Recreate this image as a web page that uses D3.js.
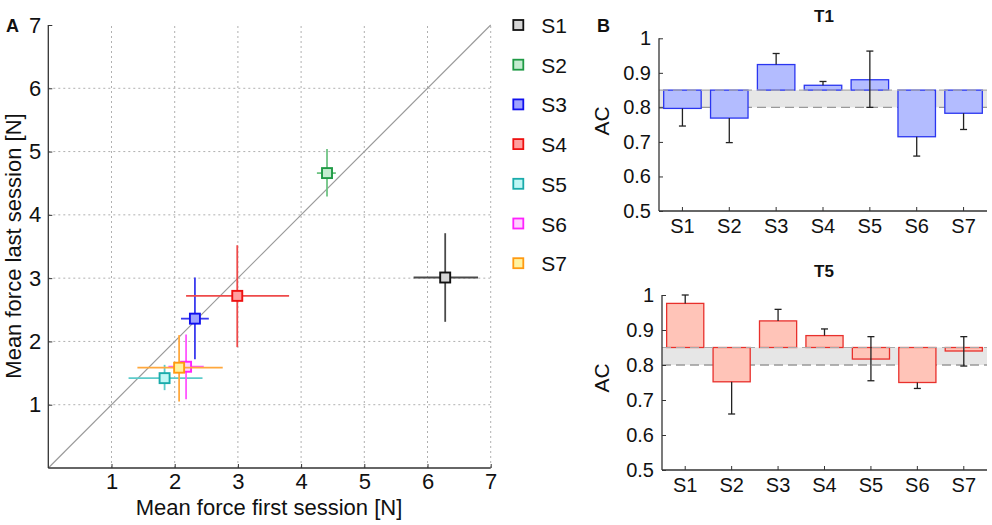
<!DOCTYPE html>
<html>
<head>
<meta charset="utf-8">
<script src="https://cdn.jsdelivr.net/npm/d3@7"></script>
<style>
html,body{margin:0;padding:0;background:#fff;}
text{font-family:"Liberation Sans",Arial,sans-serif;fill:#111;}
</style>
</head>
<body>
<svg id="chart" width="992" height="525"></svg>
<script>
// ---------- data ----------
const subjects = ["S1","S2","S3","S4","S5","S6","S7"];
// Panel A: mean force first / last session with error extents
const firstMean = [6.28, 4.41, 2.32, 2.99, 1.84, 2.18, 2.07];
const firstLo   = [5.78, 4.25, 2.10, 2.18, 1.27, 1.90, 1.41];
const firstHi   = [6.80, 4.55, 2.54, 3.81, 2.44, 2.46, 2.76];
const lastMean  = [3.01, 4.66, 2.36, 2.72, 1.42, 1.60, 1.585];
const lastLo    = [2.31, 4.29, 1.72, 1.91, 1.23, 1.085, 1.05];
const lastHi    = [3.71, 5.04, 3.01, 3.52, 1.63, 2.11, 2.10];
const axisTicksA = [1,2,3,4,5,6,7];
const edgeColors = ["#111111","#1f9a45","#1010ee","#ee1111","#1aabab","#ff22ff","#ff9a10"];
const fillColors = ["#d6d6d6","#c4ecd0","#9fa3ff","#ff9f9f","#bff7f5","#ffd2ff","#fff3a0"];
const lineColors = ["#4a4a4a","#6fc484","#3a3aee","#ee4a4a","#5ccbca","#ff55ff","#ffa83d"];

// Panel B: AC per subject (T1 and T5), baseline 0.85, band 0.8-0.85
const acT1   = [0.797, 0.769, 0.924, 0.864, 0.880, 0.715, 0.783];
const t1ErrLo = [0.746, 0.698, 0.924, 0.864, 0.800, 0.659, 0.736];
const t1ErrHi = [0.797, 0.769, 0.956, 0.875, 0.963, 0.715, 0.783];
const acT5   = [0.976, 0.752, 0.926, 0.884, 0.817, 0.750, 0.840];
const t5ErrLo = [0.976, 0.660, 0.926, 0.884, 0.755, 0.733, 0.797];
const t5ErrHi = [1.000, 0.752, 0.959, 0.903, 0.881, 0.750, 0.881];
const acTicks = [0.5,0.6,0.7,0.8,0.9,1];
const baseline = 0.85;
const bandLow = 0.80;

const svg = d3.select("#chart");
const axisCol = "#333";

// ---------- Panel A ----------
const xA = d3.scaleLinear().domain([0,7]).range([48.3,490.7]);
const yA = d3.scaleLinear().domain([0,7]).range([468,25]);
const gA = svg.append("g");

// grid
gA.selectAll("line.gx").data(axisTicksA).join("line")
  .attr("x1",d=>xA(d)).attr("x2",d=>xA(d)).attr("y1",yA(0)).attr("y2",yA(7))
  .attr("stroke","#b0b0b0").attr("stroke-width",1).attr("stroke-dasharray","2,3");
gA.selectAll("line.gy").data(axisTicksA.filter(d=>d<7)).join("line")
  .attr("y1",d=>yA(d)).attr("y2",d=>yA(d)).attr("x1",xA(0)).attr("x2",xA(7))
  .attr("stroke","#b0b0b0").attr("stroke-width",1).attr("stroke-dasharray","2,3");
// diagonal
gA.append("line").attr("x1",xA(0)).attr("y1",yA(0)).attr("x2",xA(7)).attr("y2",yA(7))
  .attr("stroke","#999").attr("stroke-width",1.1);

// axes
const axXA = d3.axisBottom(xA).tickValues(axisTicksA).tickSize(-4).tickPadding(5).tickFormat(d3.format("d"));
const axYA = d3.axisLeft(yA).tickValues(axisTicksA).tickSize(-4).tickPadding(7).tickFormat(d3.format("d"));
const gxA = gA.append("g").attr("transform",`translate(0,${yA(0)})`).call(axXA);
const gyA = gA.append("g").attr("transform",`translate(${xA(0)},0)`).call(axYA);
[gxA,gyA].forEach(g=>{
  g.select(".domain").attr("stroke",axisCol).attr("stroke-width",1.3);
  g.selectAll(".tick line").attr("stroke",axisCol);
  g.selectAll(".tick text").style("font-size","22px").attr("fill","#111");
});
gxA.select(".domain").attr("d",`M${xA(0)},0H${xA(7)}`);
gyA.select(".domain").attr("d",`M0,${yA(0)}V${yA(7)}`);

gA.append("text").attr("x",269).attr("y",515).attr("text-anchor","middle")
  .style("font-size","22px").text("Mean force first session [N]");
gA.append("text").attr("transform","translate(21,246) rotate(-90)").attr("text-anchor","middle")
  .style("font-size","22px").text("Mean force last session [N]");
svg.append("text").attr("x",6).attr("y",32).style("font-size","18px").style("font-weight","bold").text("A");

// error bars + markers
const pts = subjects.map((s,i)=>({s,i}));
const gp = gA.selectAll("g.pt").data(pts).join("g");
gp.append("line").attr("x1",d=>xA(firstLo[d.i])).attr("x2",d=>xA(firstHi[d.i]))
  .attr("y1",d=>yA(lastMean[d.i])).attr("y2",d=>yA(lastMean[d.i]))
  .attr("stroke",d=>lineColors[d.i]).attr("stroke-width",1.8);
gp.append("line").attr("x1",d=>xA(firstMean[d.i])).attr("x2",d=>xA(firstMean[d.i]))
  .attr("y1",d=>yA(lastLo[d.i])).attr("y2",d=>yA(lastHi[d.i]))
  .attr("stroke",d=>lineColors[d.i]).attr("stroke-width",1.8);
gp.append("rect").attr("x",d=>xA(firstMean[d.i])-5).attr("y",d=>yA(lastMean[d.i])-5)
  .attr("width",10).attr("height",10)
  .attr("fill",d=>fillColors[d.i]).attr("stroke",d=>edgeColors[d.i]).attr("stroke-width",1.9);

// legend
const lg = svg.append("g").selectAll("g").data(pts).join("g")
  .attr("transform",d=>`translate(518.3,${25+d.i*39.7})`);
lg.append("rect").attr("x",-5).attr("y",-5).attr("width",10).attr("height",10)
  .attr("fill",d=>fillColors[d.i]).attr("stroke",d=>edgeColors[d.i]).attr("stroke-width",1.8);
lg.append("text").attr("x",23).attr("y",8).style("font-size","21px").text(d=>d.s);

// ---------- Panel B ----------
svg.append("text").attr("x",597).attr("y",32).style("font-size","18px").style("font-weight","bold").text("B");

function barPanel(cfg){
  const x = d3.scaleBand().domain(subjects).range([cfg.left,987]).paddingInner(0.2).paddingOuter(0.1);
  const y = d3.scaleLinear().domain([0.5,1]).range([cfg.bottom,cfg.top]);
  const g = svg.append("g");
  // band
  g.append("rect").attr("x",cfg.left).attr("width",987-cfg.left)
    .attr("y",y(baseline)).attr("height",y(bandLow)-y(baseline)).attr("fill","#e6e6e6");
  g.append("line").attr("x1",cfg.left).attr("x2",987).attr("y1",y(bandLow)).attr("y2",y(bandLow))
    .attr("stroke","#999").attr("stroke-width",1.3).attr("stroke-dasharray","9,5");
  // bars
  const d = subjects.map((s,i)=>({s,i}));
  g.selectAll("rect.bar").data(d).join("rect")
    .attr("x",e=>x(e.s)).attr("width",x.bandwidth())
    .attr("y",e=>y(Math.max(cfg.vals[e.i],baseline)))
    .attr("height",e=>Math.abs(y(cfg.vals[e.i])-y(baseline)))
    .attr("fill",cfg.fill).attr("stroke",cfg.stroke).attr("stroke-width",1.3);
  g.append("line").attr("x1",cfg.left).attr("x2",987).attr("y1",y(baseline)).attr("y2",y(baseline))
    .attr("stroke","#aaa").attr("stroke-width",1.2).attr("stroke-dasharray","9,5");
  // error bars
  const cx = e=>x(e.s)+x.bandwidth()/2;
  g.selectAll("line.err").data(d).join("line")
    .attr("x1",cx).attr("x2",cx).attr("y1",e=>y(cfg.lo[e.i])).attr("y2",e=>y(cfg.hi[e.i]))
    .attr("stroke","#222").attr("stroke-width",1.3);
  const caps = [];
  d.forEach(e=>{
    if (cfg.lo[e.i] !== cfg.vals[e.i]) caps.push({e,v:cfg.lo[e.i]});
    if (cfg.hi[e.i] !== cfg.vals[e.i]) caps.push({e,v:cfg.hi[e.i]});
  });
  g.selectAll("line.cap").data(caps).join("line")
    .attr("x1",c=>cx(c.e)-3.5).attr("x2",c=>cx(c.e)+3.5).attr("y1",c=>y(c.v)).attr("y2",c=>y(c.v))
    .attr("stroke","#222").attr("stroke-width",1.3);
  // axes
  const ax = d3.axisBottom(x).tickSize(-4).tickPadding(8);
  const ay = d3.axisLeft(y).tickValues(acTicks).tickSize(-4).tickPadding(8).tickFormat(d3.format("~g"));
  const gx = g.append("g").attr("transform",`translate(0,${cfg.bottom})`).call(ax);
  const gy = g.append("g").attr("transform",`translate(${cfg.left},0)`).call(ay);
  gx.select(".domain").attr("d",`M${cfg.left},0H987`);
  gy.select(".domain").attr("d",`M0,${cfg.bottom}V${cfg.top}`);
  [gx,gy].forEach(a=>{
    a.select(".domain").attr("stroke",axisCol).attr("stroke-width",1.3);
    a.selectAll(".tick line").attr("stroke",axisCol);
    a.selectAll(".tick text").style("font-size","20px").attr("fill","#111");
  });
  g.append("text").attr("x",824).attr("y",cfg.titleY).attr("text-anchor","middle")
    .style("font-size","17px").style("font-weight","bold").text(cfg.title);
  g.append("text").attr("transform",`translate(609,${cfg.acY}) rotate(-90)`).attr("text-anchor","middle")
    .style("font-size","21px").text("AC");
}

barPanel({title:"T1",titleY:22,left:659,top:38.3,bottom:211,acY:121,
  vals:acT1,lo:t1ErrLo,hi:t1ErrHi,fill:"#b3bcff",stroke:"#2a35f0"});
barPanel({title:"T5",titleY:277,left:662,top:295,bottom:470,acY:378,
  vals:acT5,lo:t5ErrLo,hi:t5ErrHi,fill:"#ffc4b8",stroke:"#e8302c"});
</script>
</body>
</html>
